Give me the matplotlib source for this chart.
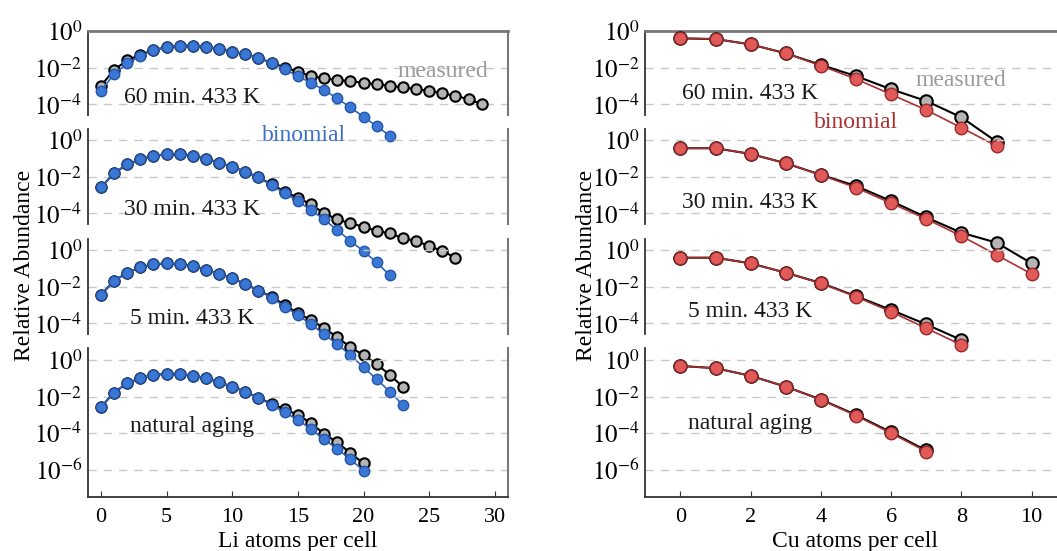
import numpy as np
import matplotlib.pyplot as plt

plt.rcParams['font.family'] = ['Liberation Serif', 'DejaVu Serif']
plt.rcParams['mathtext.fontset'] = 'stix'

# log10 of relative abundance
li_60_meas = [-3.0, -2.13, -1.6, -1.3, -1.04, -0.89, -0.8, -0.8, -0.86, -0.98,
              -1.12, -1.26, -1.49, -1.72, -2.0, -2.22, -2.46, -2.58, -2.68, -2.73,
              -2.83, -2.91, -3.0, -3.08, -3.17, -3.26, -3.4, -3.54, -3.72, -3.99]
li_60_bin = [-3.26, -2.37, -1.77, -1.37, -1.04, -0.89, -0.8, -0.8, -0.86, -0.98,
             -1.12, -1.26, -1.49, -1.73, -2.09, -2.46, -2.83, -3.22, -3.68, -4.17,
             -4.68, -5.19, -5.72]
li_30_meas = [-2.58, -1.82, -1.33, -1.06, -0.86, -0.78, -0.78, -0.86, -1.02, -1.24,
              -1.46, -1.73, -2.04, -2.42, -2.82, -3.15, -3.51, -4.0, -4.33, -4.55,
              -4.73, -4.97, -5.09, -5.36, -5.51, -5.78, -6.06, -6.42]
li_30_bin = [-2.58, -1.82, -1.33, -1.06, -0.86, -0.78, -0.78, -0.86, -1.02, -1.24,
             -1.46, -1.73, -2.04, -2.46, -2.91, -3.33, -3.83, -4.33, -4.92, -5.5,
             -6.07, -6.68, -7.38]
li_5_meas = [-2.45, -1.69, -1.24, -0.95, -0.78, -0.73, -0.78, -0.87, -1.09, -1.31,
             -1.55, -1.85, -2.22, -2.55, -3.0, -3.45, -3.82, -4.27, -4.75, -5.31,
             -5.73, -6.22, -6.82, -7.46]
li_5_bin = [-2.45, -1.69, -1.24, -0.95, -0.78, -0.73, -0.78, -0.87, -1.09, -1.31,
            -1.55, -1.85, -2.22, -2.6, -3.09, -3.55, -4.05, -4.6, -5.14, -5.73,
            -6.4, -7.05, -7.73, -8.46]
li_nat_meas = [-2.58, -1.78, -1.27, -1.0, -0.82, -0.76, -0.76, -0.86, -1.0, -1.22,
               -1.46, -1.73, -2.06, -2.4, -2.69, -3.0, -3.45, -4.04, -4.49, -5.09,
               -5.64]
li_nat_bin = [-2.58, -1.78, -1.27, -1.0, -0.82, -0.76, -0.76, -0.86, -1.0, -1.22,
              -1.46, -1.73, -2.06, -2.46, -2.86, -3.27, -3.78, -4.33, -4.86, -5.42,
              -6.04]

cu_60_meas = [-0.4, -0.44, -0.73, -1.22, -1.85, -2.46, -3.18, -3.82, -4.71, -6.04]
cu_60_bin = [-0.4, -0.44, -0.73, -1.22, -1.89, -2.62, -3.46, -4.31, -5.28, -6.27]
cu_30_meas = [-0.45, -0.45, -0.76, -1.27, -1.9, -2.51, -3.33, -4.22, -5.06, -5.6, -6.73]
cu_30_bin = [-0.45, -0.45, -0.76, -1.27, -1.91, -2.6, -3.45, -4.31, -5.24, -6.27, -7.31]
cu_5_meas = [-0.42, -0.42, -0.73, -1.24, -1.8, -2.52, -3.27, -4.06, -4.91]
cu_5_bin = [-0.42, -0.42, -0.73, -1.24, -1.82, -2.55, -3.37, -4.27, -5.18]
cu_nat_meas = [-0.33, -0.45, -0.87, -1.46, -2.16, -3.0, -3.95, -4.94]
cu_nat_bin = [-0.33, -0.45, -0.87, -1.46, -2.18, -3.04, -4.0, -5.0]

panel_names = ['60 min. 433 K', '30 min. 433 K', '5 min. 433 K', 'natural aging']
li_meas = [li_60_meas, li_30_meas, li_5_meas, li_nat_meas]
li_bin = [li_60_bin, li_30_bin, li_5_bin, li_nat_bin]
cu_meas = [cu_60_meas, cu_30_meas, cu_5_meas, cu_nat_meas]
cu_bin = [cu_60_bin, cu_30_bin, cu_5_bin, cu_nat_bin]

W, H = 1057, 551
fig = plt.figure(figsize=(W / 100, H / 100), dpi=100)

DEC = 18.33  # pixels per decade
# (top px, ylim top exponent, ylim bottom exponent)
panels = [(31, 0.0, -4.58), (129, 0.6, -4.58), (239, 0.6, -4.58), (348, 0.65, -7.47)]
yticks = [[0, -2, -4], [0, -2, -4], [0, -2, -4], [0, -2, -4, -6]]


def make_col(x0, x1, xlim, xticks, meas, binom, bcol, bedge, bline, ms):
    axes = []
    for k, (top, e_top, e_bot) in enumerate(panels):
        h = (e_top - e_bot) * DEC
        ax = fig.add_axes([x0 / W, 1 - (top + h) / H, (x1 - x0) / W, h / H])
        ax.set_yscale('log')
        ax.set_ylim(10 ** e_bot, 10 ** e_top)
        ax.set_xlim(*xlim)
        ax.patch.set_alpha(0)
        for e in yticks[k]:
            ax.axhline(10.0 ** e, color='#c8c8c8', lw=1, ls=(0, (6, 5)), zorder=0)
        ax.set_yticks([10.0 ** e for e in yticks[k]])
        ax.set_yticklabels(['$10^{%d}$' % e for e in yticks[k]], fontsize=18)
        ax.minorticks_off()
        ax.tick_params(axis='y', length=0, pad=4)
        ax.spines['left'].set_color('#333333')
        ax.spines['left'].set_linewidth(1.3)
        ax.spines['right'].set_color('#777777')
        ax.spines['right'].set_linewidth(1.5)
        ax.spines['top'].set_visible(k == 0)
        ax.spines['top'].set_color('#777777')
        ax.spines['top'].set_linewidth(2)
        ax.spines['bottom'].set_visible(k == 3)
        ax.spines['bottom'].set_color('#333333')
        ax.spines['bottom'].set_linewidth(1.3)
        if k == 3:
            ax.set_xticks(xticks)
            ax.tick_params(axis='x', direction='in', length=4, labelsize=16, pad=8,
                           color='#333333')
        else:
            ax.set_xticks([])
        m = meas[k]
        b = binom[k]
        ax.plot(range(len(m)), 10.0 ** np.array(m), '-o', color='black', lw=1.5,
                mfc='#b4b4b4', mec='black', mew=1.5, ms=ms, clip_on=False, zorder=3)
        ax.plot(range(len(b)), 10.0 ** np.array(b), '-o', color=bline, lw=1.2,
                mfc=bcol, mec=bedge, mew=1.0, ms=ms, clip_on=False, zorder=4)
        axes.append(ax)
    return axes


make_col(87.7, 508, (-1, 31), [0, 5, 10, 15, 20, 25, 30], li_meas, li_bin,
         '#3b78d6', '#2355a8', '#2f63c0', 7.5)
make_col(645.3, 1066.8, (-1, 11), [0, 2, 4, 6, 8, 10], cu_meas, cu_bin,
         '#e05a5a', '#9a2a2a', '#a83030', 9.0)


def ftext(x, y, s, **kw):
    fig.text(x / W, 1 - y / H, s, **kw)


lbl = dict(fontsize=17, va='baseline', ha='left', color='#1a1a1a')
for name, lx, by in zip(panel_names, [124, 124, 130, 130], [103, 215, 324, 432]):
    ftext(lx, by, name, **lbl)
for name, lx, by in zip(panel_names, [682, 682, 688, 688], [99, 208, 317, 429]):
    ftext(lx, by, name, **lbl)

ftext(397, 77, 'measured', fontsize=17, va='baseline', color='#9a9a9a')
ftext(262, 141, 'binomial', fontsize=17, va='baseline', color='#3b6fc8')
ftext(916, 86, 'measured', fontsize=17, va='baseline', color='#9a9a9a')
ftext(814, 128, 'binomial', fontsize=17, va='baseline', color='#a83232')

ftext(25, 265, 'Relative Abundance', fontsize=17, rotation=90, ha='center', va='center')
ftext(586, 265, 'Relative Abundance', fontsize=17, rotation=90, ha='center', va='center')
ftext(298, 547, 'Li atoms per cell', fontsize=17, ha='center', va='baseline')
ftext(855, 547, 'Cu atoms per cell', fontsize=17, ha='center', va='baseline')

fig.savefig('out.png', dpi=100)
